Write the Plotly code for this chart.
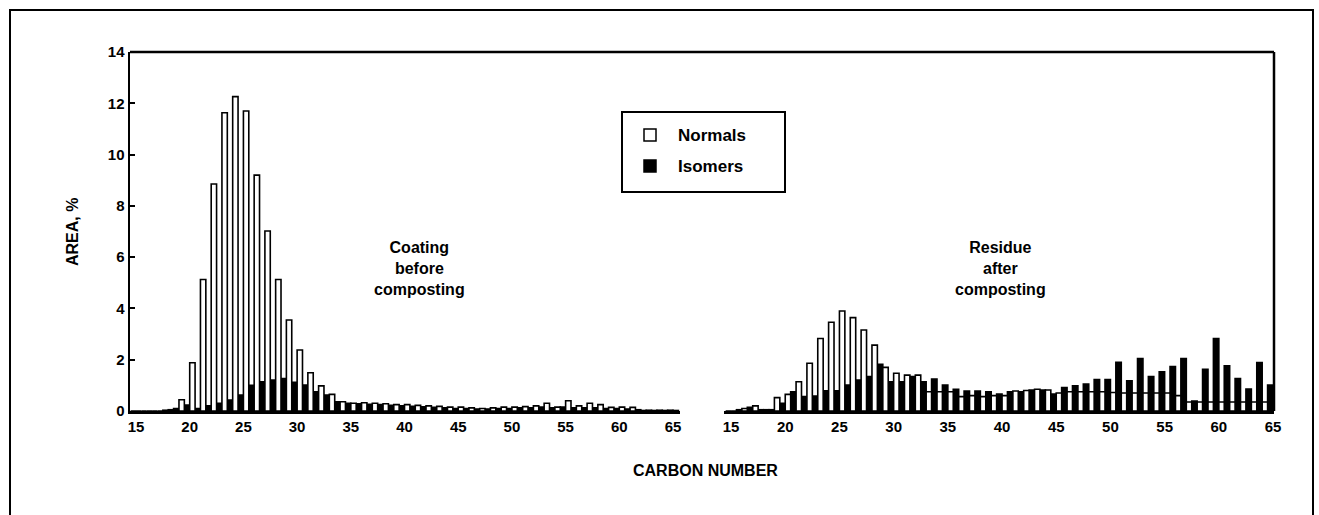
import plotly.graph_objects as go

# ---------------- data ----------------
carbon = list(range(15, 66))

# Coating before composting (left panel)
before_normals = [0, 0, 0, 0.05, 0.44, 1.88, 5.13, 8.85, 11.63, 12.26,
                  11.7, 9.2, 7.02, 5.13, 3.55, 2.38, 1.49, 0.98, 0.65, 0.36,
                  0.3, 0.32, 0.3, 0.28, 0.25, 0.25, 0.22, 0.2, 0.18, 0.15,
                  0.15, 0.12, 0.1, 0.12, 0.15, 0.15, 0.17, 0.2, 0.3, 0.15,
                  0.4, 0.2, 0.3, 0.25, 0.14, 0.15, 0.14, 0.02, 0.02, 0.02, 0.02]
before_isomers = [0, 0, 0, 0.03, 0.1, 0.23, 0.1, 0.2, 0.3, 0.43,
                  0.62, 1.0, 1.14, 1.21, 1.27, 1.12, 1.01, 0.75, 0.62, 0.36,
                  0.3, 0.28, 0.26, 0.25, 0.22, 0.2, 0.18, 0.16, 0.14, 0.12,
                  0.1, 0.1, 0.08, 0.08, 0.1, 0.1, 0.12, 0.12, 0.15, 0.12,
                  0.15, 0.12, 0.12, 0.12, 0.1, 0.1, 0.08, 0.05, 0.03, 0.03, 0.03]

# Residue after composting (right panel)
after_normals = [0, 0.1, 0.2, 0.05, 0.52, 0.65, 1.14, 1.86, 2.83, 3.46,
                 3.9, 3.64, 3.16, 2.57, 1.7, 1.47, 1.4, 1.4, 0.75, 0.75,
                 0.75, 0.56, 0.6, 0.56, 0.6, 0.6, 0.78, 0.8, 0.85, 0.82,
                 0.7, 0.75, 0.75, 0.75, 0.75, 0.72, 0.7, 0.7, 0.7, 0.7,
                 0.7, 0.6, 0.35, 0.35, 0.35, 0.35, 0.35, 0.35, 0.35, 0.35, 0.35]
after_isomers = [0, 0.05, 0.14, 0.05, 0.05, 0.3, 0.75, 0.56, 0.58, 0.79,
                 0.79, 1.01, 1.21, 1.34, 1.82, 1.14, 1.14, 1.34, 1.14, 1.25,
                 1.01, 0.85, 0.78, 0.78, 0.75, 0.66, 0.75, 0.75, 0.82, 0.82,
                 0.66, 0.91, 0.98, 1.05, 1.23, 1.23, 1.9, 1.18, 2.05, 1.34,
                 1.53, 1.73, 2.05, 0.39, 1.63, 2.83, 1.76, 1.27, 0.86, 1.89, 1.01]

x_ticks = [15, 20, 25, 30, 35, 40, 45, 50, 55, 60, 65]
y_ticks = [0, 2, 4, 6, 8, 10, 12, 14]

# ---------------- figure ----------------
FONT = "Liberation Sans, Arial, Helvetica, sans-serif"
W, H = 1319, 515
L, R, T, B = 130, 45, 52, 104
PW, PH = W - L - R, H - T - B


def px_x(p):
    return (p - L) / PW


def px_y(p):
    return (H - B - p) / PH


line_w = 1.6
fig = go.Figure()
for xa, iso, nor in (("x", before_isomers, before_normals),
                     ("x2", after_isomers, after_normals)):
    fig.add_trace(go.Bar(x=carbon, y=iso, name="Isomers", xaxis=xa, yaxis="y",
                         marker=dict(color="black", line=dict(color="black", width=line_w)),
                         showlegend=False))
    fig.add_trace(go.Bar(x=carbon, y=nor, name="Normals", xaxis=xa, yaxis="y",
                         marker=dict(color="white", line=dict(color="black", width=line_w)),
                         showlegend=False))

axis_common = dict(showline=True, linecolor="black", linewidth=2.5, showgrid=False,
                   zeroline=False, tickvals=x_ticks, ticks="",
                   tickfont=dict(family=FONT, size=15, color="black", weight="bold"))

fig.update_layout(
    width=W, height=H, autosize=False,
    margin=dict(l=L, r=R, t=T, b=B, pad=0),
    paper_bgcolor="white", plot_bgcolor="white",
    barmode="group", bargap=0, bargroupgap=0,
    xaxis=dict(domain=[0, px_x(680)], range=[14.44, 65.65], anchor="y", **axis_common),
    xaxis2=dict(domain=[px_x(724), 1], range=[14.35, 65.09], anchor="y", **axis_common),
    yaxis=dict(domain=[0, 1], range=[0, 14], tickvals=y_ticks, ticks="inside",
               ticklen=5, tickwidth=2, tickcolor="black",
               showline=True, linecolor="black", linewidth=2.5,
               showgrid=False, zeroline=False,
               tickfont=dict(family=FONT, size=15, color="black", weight="bold")),
)

shapes = []
# top and right of the plot frame
shapes.append(dict(type="line", xref="paper", yref="paper", x0=0, x1=1, y0=1, y1=1,
                   line=dict(color="black", width=2.5)))
shapes.append(dict(type="line", xref="paper", yref="paper", x0=1, x1=1, y0=0, y1=1,
                   line=dict(color="black", width=2.5)))
# outer page frame
shapes.append(dict(type="rect", xref="paper", yref="paper",
                   x0=px_x(10), x1=px_x(1313), y0=px_y(540), y1=px_y(10),
                   line=dict(color="black", width=2)))
# legend box
shapes.append(dict(type="rect", xref="paper", yref="paper",
                   x0=px_x(622), x1=px_x(785), y0=px_y(192), y1=px_y(112),
                   line=dict(color="black", width=2), fillcolor="white"))
# legend symbols
shapes.append(dict(type="rect", xref="paper", yref="paper",
                   x0=px_x(644), x1=px_x(656), y0=px_y(141), y1=px_y(129),
                   line=dict(color="black", width=1.5), fillcolor="white"))
shapes.append(dict(type="rect", xref="paper", yref="paper",
                   x0=px_x(644), x1=px_x(656), y0=px_y(172), y1=px_y(160),
                   line=dict(color="black", width=1.5), fillcolor="black"))
fig.update_layout(shapes=shapes)

bold = dict(family=FONT, size=16, color="black", weight="bold")
ann = [
    dict(text="Normals", xref="paper", yref="paper", x=px_x(676), y=px_y(135),
         xanchor="left", yanchor="middle", showarrow=False, font=dict(bold, size=17)),
    dict(text="Isomers", xref="paper", yref="paper", x=px_x(676), y=px_y(166),
         xanchor="left", yanchor="middle", showarrow=False, font=dict(bold, size=17)),
    dict(text="Coating<br>before<br>composting", xref="paper", yref="paper",
         x=px_x(419), y=px_y(268), xanchor="center", yanchor="middle",
         showarrow=False, font=bold),
    dict(text="Residue<br>after<br>composting", xref="paper", yref="paper",
         x=px_x(1000), y=px_y(268), xanchor="center", yanchor="middle",
         showarrow=False, font=bold),
    dict(text="CARBON NUMBER", xref="paper", yref="paper",
         x=px_x(705), y=px_y(470), xanchor="center", yanchor="middle",
         showarrow=False, font=bold),
    dict(text="AREA, %", xref="paper", yref="paper", textangle=-90,
         x=px_x(72), y=px_y(232), xanchor="center", yanchor="middle",
         showarrow=False, font=bold),
]
fig.update_layout(annotations=ann)

fig.write_html("out.html",
               config={"displayModeBar": False, "staticPlot": True},
               post_script="document.body.style.margin='0';document.body.style.overflow='hidden';")
